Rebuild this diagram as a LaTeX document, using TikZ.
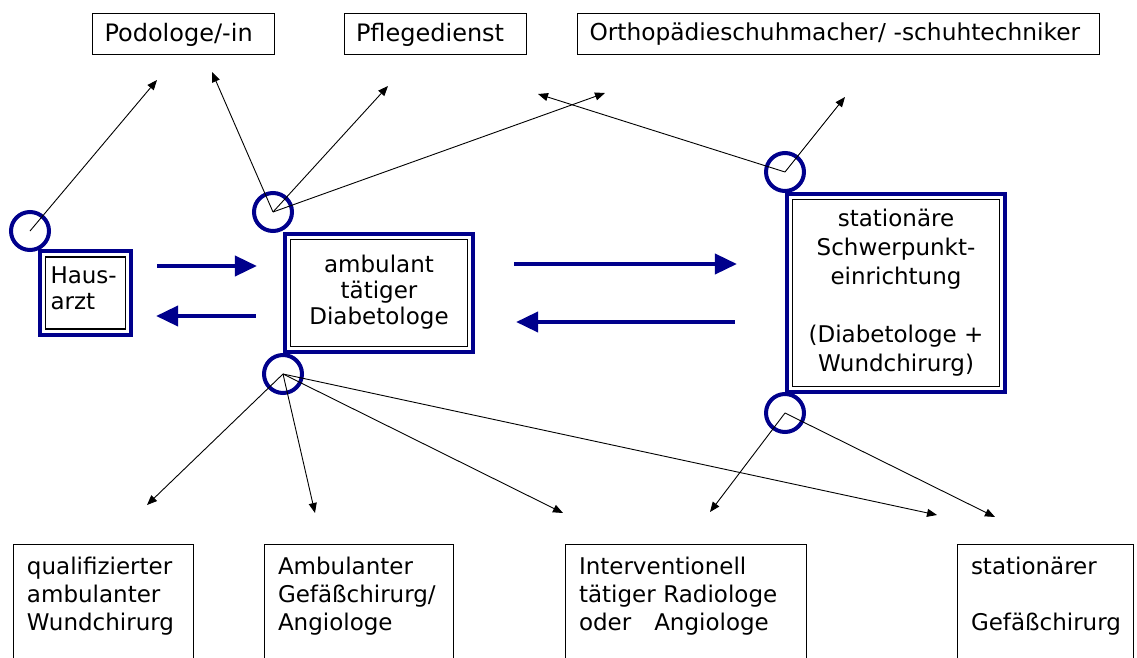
\documentclass[tikz,border=0pt]{standalone}
\usepackage{fontspec}
\setmainfont{DejaVu Sans}
\usetikzlibrary{arrows.meta,fit,positioning}
\definecolor{hubblue}{RGB}{0,0,140}
\tikzset
{
    hub/.style      = {rectangle, draw=black, line width=1.2pt, align=center, inner sep=4pt, font=\fontsize{23}{26}\selectfont},
    hubframe/.style = {rectangle, draw=hubblue, line width=4pt, inner sep=5pt},
    ring/.style     = {circle, draw=hubblue, line width=4pt, minimum size=38pt, inner sep=0pt},
    partner/.style  = {rectangle, draw=black, line width=1pt, align=left, text width=#1, minimum height=41pt, inner xsep=12pt, font=\fontsize{24}{28}\selectfont},
    lowbox/.style   = {rectangle, draw=black, line width=1pt, anchor=north west, align=left, text width=#1, inner xsep=14pt, inner ysep=13pt, font=\fontsize{23}{28}\selectfont},
    link/.style     = {-{Triangle[length=10pt,width=8pt]}, line width=0.9pt},
    flow/.style     = {-{Triangle[length=22pt,width=20pt]}, draw=hubblue, line width=4pt}
}

\begin{document}
\begin{tikzpicture}[x=1pt, y=-1pt]
   \clip (0,0) rectangle (1137,658);

   % partners on top
   \node (podo)   [partner=158pt]  at (183.5,34.5)  {Podologe/-in};
   \node (pflege) [partner=158pt]  at (435,34.5)    {Pflegedienst};
   \node (ortho)  [partner=498pt, font=\fontsize{23.3}{28}\selectfont]  at (838.5,34.5)  {\mbox{Orthopädieschuhmacher/ -schuhtechniker}};

   % the three main stations
   \node (haus) [hub, align=left, text width=70pt, inner xsep=5pt, minimum height=72pt] at (85.5,293) {Haus-\\arzt\\[-17pt]\mbox{}};
   \node (amb)  [hub, minimum width=177pt, minimum height=107pt] at (379,293) {ambulant\\tätiger\\Diabetologe\\[-20pt]\mbox{}};
   \node (stat) [hub, minimum width=207pt, minimum height=187pt, font=\fontsize{23}{29}\selectfont] at (896,293)
        {stationäre\\Schwerpunkt-\\einrichtung\\\mbox{}\\(Diabetologe +\\Wundchirurg)};

   \node (hausf) [hubframe, fit=(haus)] {};
   \node (ambf)  [hubframe, fit=(amb)]  {};
   \node (statf) [hubframe, fit=(stat)] {};

   \node (ringHaus)    [ring] at (30,231)  {};
   \node (ringAmbTop)  [ring] at (273,212) {};
   \node (ringAmbBot)  [ring] at (283,374) {};
   \node (ringStatTop) [ring] at (785,172) {};
   \node (ringStatBot) [ring] at (785,413) {};

   % partners at the bottom (cut off by the page edge)
   \node (qual)     [lowbox=152pt]   at (12.5,544)  {qualifizierter\\ambulanter\\Wundchirurg\\[40pt]\mbox{}};
   \node (gefamb)   [lowbox=161pt]   at (263.5,544) {Ambulanter\\Gefäßchirurg/\\Angiologe\\[40pt]\mbox{}};
   \node (radio)    [lowbox=213pt]   at (564.5,544) {Interventionell\\tätiger Radiologe\\oder\ \ \ Angiologe\\[40pt]\mbox{}};
   \node (gefstat)  [lowbox=148pt]   at (956.5,544) {stationärer\\\mbox{}\\Gefäßchirurg\\[40pt]\mbox{}};

   % free ends of the thin arrows
   \coordinate (toPodoA)    at (157,80);
   \coordinate (toPodoB)    at (212,72);
   \coordinate (toPflege)   at (388,86);
   \coordinate (toOrthoA)   at (605,93);
   \coordinate (toOrthoB)   at (538,94);
   \coordinate (toOrthoC)   at (845,97);
   \coordinate (toQual)     at (147,505);
   \coordinate (toGefAmb)   at (315,513);
   \coordinate (toRadioA)   at (563,513);
   \coordinate (toGefStatA) at (937,515);
   \coordinate (toRadioB)   at (710,512);
   \coordinate (toGefStatB) at (995,517);

   \path
      ([yshift=27pt]hausf.east)  edge[flow, shorten <=24pt, shorten >=26pt] ([yshift=27pt]ambf.west)
      ([yshift=-23pt]ambf.west)  edge[flow, shorten <=27pt, shorten >=23pt] ([yshift=-23pt]hausf.east)
      ([yshift=29pt]ambf.east)   edge[flow, shorten <=39pt, shorten >=48pt] ([yshift=29pt]statf.west)
      ([yshift=-29pt]statf.west) edge[flow, shorten <=50pt, shorten >=41pt] ([yshift=-29pt]ambf.east);

   \path
      (ringHaus.center)    edge[link] (toPodoA)
      (ringAmbTop.center)  edge[link] (toPodoB)
      (ringAmbTop.center)  edge[link] (toPflege)
      (ringAmbTop.center)  edge[link] (toOrthoA)
      (ringStatTop.center) edge[link] (toOrthoB)
      (ringStatTop.center) edge[link] (toOrthoC)
      (ringAmbBot.center)  edge[link] (toQual)
      (ringAmbBot.center)  edge[link] (toGefAmb)
      (ringAmbBot.center)  edge[link] (toRadioA)
      (ringAmbBot.center)  edge[link] (toGefStatA)
      (ringStatBot.center) edge[link] (toRadioB)
      (ringStatBot.center) edge[link] (toGefStatB);
\end{tikzpicture}
\end{document}
